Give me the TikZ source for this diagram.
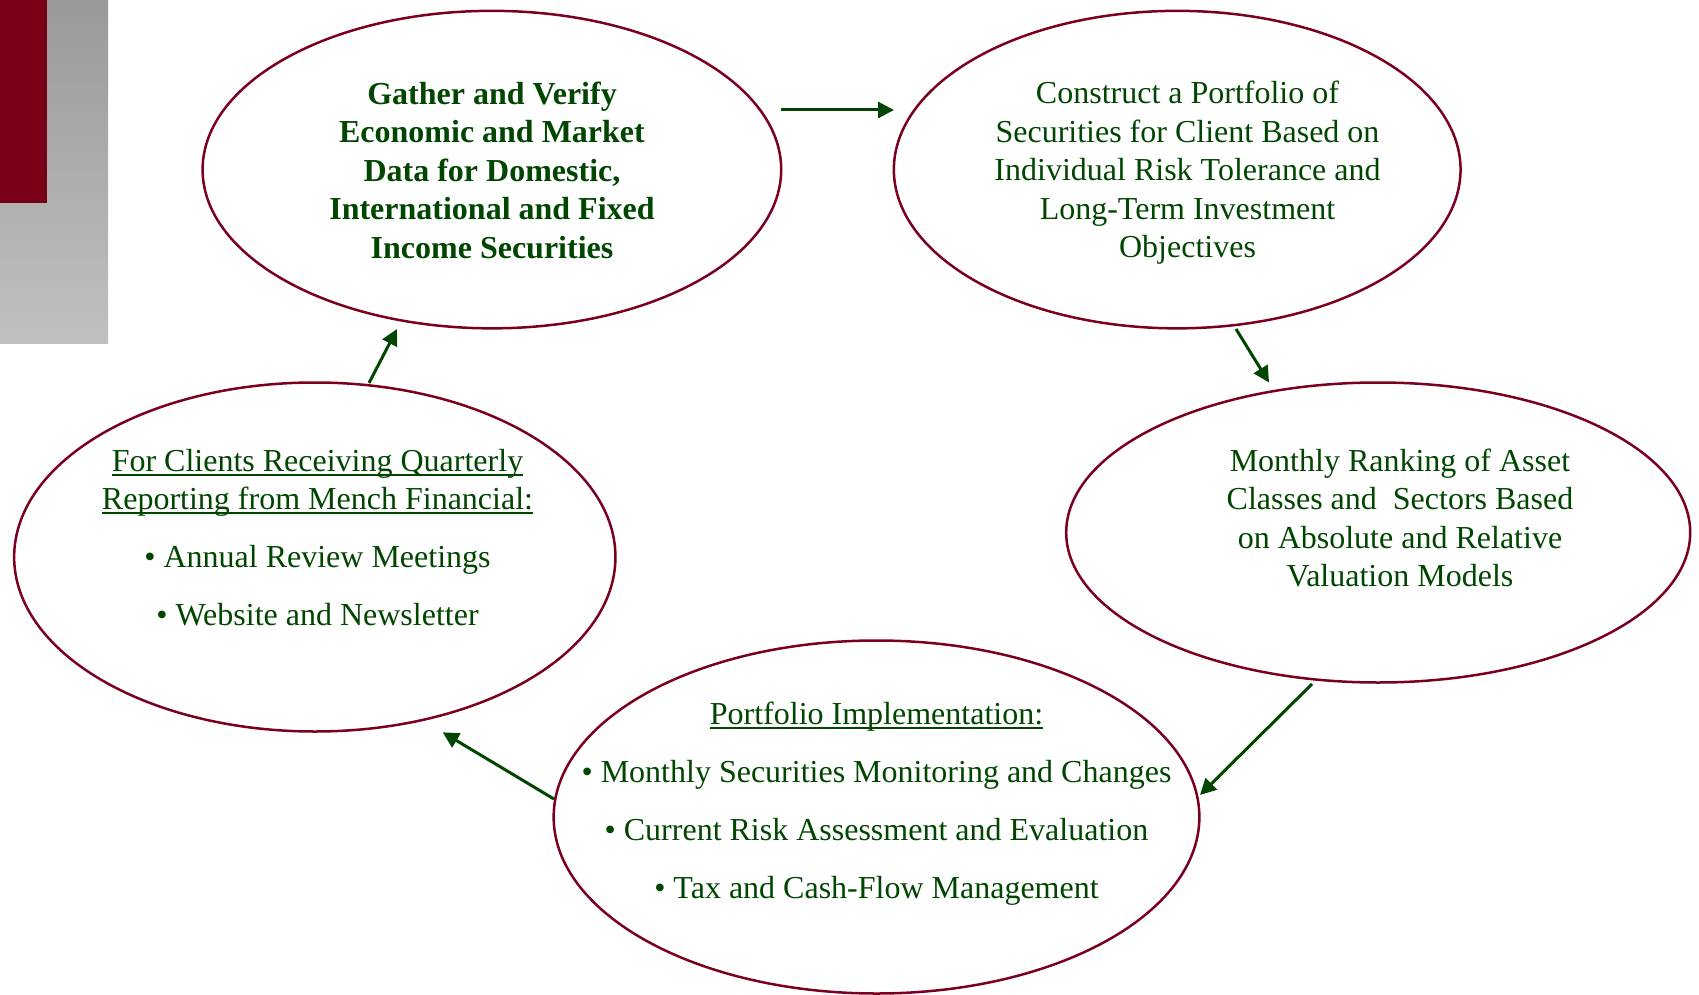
\documentclass[tikz,border=0pt]{standalone}
\usepackage{fontspec}
\setmainfont{Liberation Serif}
\usetikzlibrary{shapes.geometric,arrows.meta}
\definecolor{dgreen}{RGB}{0,70,0}
\definecolor{dred}{RGB}{123,0,32}
\definecolor{barred}{RGB}{122,0,24}
\definecolor{gtop}{RGB}{153,153,153}
\definecolor{gmid}{RGB}{186,186,186}
\definecolor{gbot}{RGB}{192,192,192}
\newcommand\myul[1]{\setbox0\hbox{#1}\rlap{\rule[-4.5pt]{\wd0}{2pt}}\box0}
\tikzset{
  ell/.style={ellipse, draw=dred, line width=2.5pt, inner sep=0pt},
  txt/.style={text=dgreen, align=center, font=\fontsize{32pt}{38.5pt}\selectfont, inner sep=0pt},
  arr/.style={draw=dgreen, line width=3pt, -{Triangle[length=16pt,width=16pt]}}
}
\begin{document}
\begin{tikzpicture}[x=1pt,y=-1pt]
\useasboundingbox (0,0) rectangle (1699,995);
% corner decoration
\fill[top color=gtop, middle color=gmid, bottom color=gbot] (0,0) rectangle (108,343);
\fill[barred] (0,0) rectangle (47,203);
% ellipses
\node[ell, minimum width=578.6pt, minimum height=317.5pt] (e1) at (491.9,169.6) {};
\node[ell, minimum width=566.7pt, minimum height=317.5pt] (e2) at (1177.2,169.6) {};
\node[ell, minimum width=624pt, minimum height=300pt] (e3) at (1378.2,532.5) {};
\node[ell, minimum width=645.7pt, minimum height=353pt] (e4) at (876.5,817) {};
\node[ell, minimum width=601.3pt, minimum height=349pt] (e5) at (314.8,557) {};
% texts
\node[txt, font=\fontsize{32pt}{38.5pt}\selectfont\bfseries] (t1) at (492,170) {Gather and Verify\\Economic and Market\\Data for Domestic,\\International and Fixed\\Income Securities};
\node[txt] (t2) at (1187.5,173) {Construct a Portfolio of\\Securities for Client Based on\\Individual Risk Tolerance and\\Long-Term Investment\\Objectives};
\node[txt] (t3) at (1400,518) {Monthly Ranking of Asset\\Classes and\ \ Sectors Based\\on Absolute and Relative\\Valuation Models};
\node[txt] (t4) at (876.5,803.5) {\myul{Portfolio Implementation:}\\[19.5pt]• Monthly Securities Monitoring and Changes\\[19.5pt]• Current Risk Assessment and Evaluation\\[19.5pt]• Tax and Cash-Flow Management};
\node[txt] (t5) at (317.5,537.5) {\myul{For Clients Receiving Quarterly}\\\myul{Reporting from Mench Financial:}\\[19.5pt]• Annual Review Meetings\\[19pt]• Website and Newsletter};
% arrow end points
\coordinate (a1s) at (781,110);  \coordinate (a1e) at (894,110);
\coordinate (a2s) at (1236,329); \coordinate (a2e) at (1269,382.5);
\coordinate (a3s) at (1312,684); \coordinate (a3e) at (1200,795);
\coordinate (a4s) at (554,799);  \coordinate (a4e) at (442.7,732.3);
\coordinate (a5s) at (369,383);  \coordinate (a5e) at (397,329);
\draw[arr] (a1s) -- (a1e);
\draw[arr] (a2s) -- (a2e);
\draw[arr] (a3s) -- (a3e);
\draw[arr] (a4s) -- (a4e);
\draw[arr] (a5s) -- (a5e);
\end{tikzpicture}
\end{document}
